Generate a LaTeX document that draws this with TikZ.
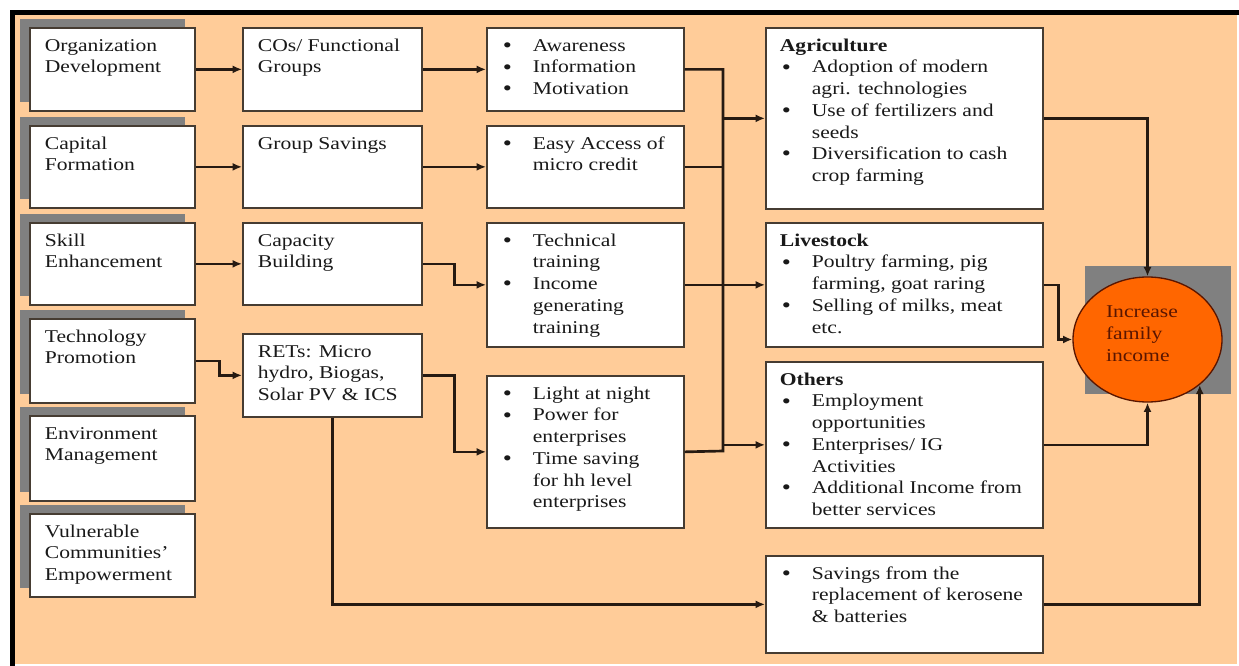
\documentclass[tikz,border=0pt]{standalone}
\usepackage{fontspec}
\setmainfont{Liberation Serif}[FakeStretch=1.2]
\usepackage{xcolor}
\usetikzlibrary{arrows.meta,shadows,shapes.geometric}

\definecolor{peach}{RGB}{255,204,153}
\definecolor{ink}{RGB}{38,26,18}
\definecolor{edge}{RGB}{70,60,50}
\definecolor{greybg}{RGB}{128,128,128}
\definecolor{flame}{RGB}{255,102,0}
\definecolor{rust}{RGB}{90,22,0}

\newdimen\unitpx \unitpx=0.75pt
% plain text cell: width, height, text
\newcommand{\cell}[3]{\parbox[t][#2\unitpx][t]{#1\unitpx}{\vspace*{6.1pt}\raggedright\leftskip=15\unitpx\relax\strut #3}}
% list cell: width, height, items
\newcommand{\lst}[3]{\parbox[t][#2\unitpx][t]{#1\unitpx}{\vspace*{6.1pt}\raggedright\leftskip=14\unitpx\relax #3}}
\newcommand{\itm}[1]{\par\hangindent=32\unitpx\hangafter=1\noindent\makebox[32\unitpx][l]{\strut\hspace{2\unitpx}\raisebox{-0.8pt}[0pt][0pt]{\scalebox{1.2}{\textbullet}}}#1}
\newcommand{\hd}[1]{\par\noindent\strut\textbf{#1}}

\tikzset{
  box/.style={draw=edge, line width=1.3pt, fill=white, inner sep=0pt, anchor=north west,
    text=black!90, font=\fontsize{13.5pt}{16.3pt}\selectfont},
  sbox/.style={box, drop shadow={shadow xshift=-7.5pt, shadow yshift=6.75pt, fill=greybg, opacity=1}},
  link/.style={draw=ink, line width=2pt},
  arr/.style={link, -{Latex[length=7pt,width=6pt]}},
}

\begin{document}
\begin{tikzpicture}[x=0.75pt,y=0.75pt,yscale=-1,xscale=1]
\useasboundingbox (0,0) rectangle (1239,666);

%Shape: Background
\fill[peach] (12,12) rectangle (1237,664);
\draw[line width=3.75pt] (12.5,666) -- (12.5,12.5) -- (1239,12.5);
\fill[greybg] (1085,266) rectangle (1231,394);

% Left column
\node[sbox] (orgd) at (29,27)  {\cell{165}{83}{Organization\newline Development}};
\node[sbox] (capf) at (29,125) {\cell{165}{82}{Capital\newline Formation}};
\node[sbox] (skil) at (29,222) {\cell{165}{82}{Skill\newline Enhancement}};
\node[sbox] (tech) at (29,318) {\cell{165}{84}{Technology\newline Promotion}};
\node[sbox] (envm) at (29,415) {\cell{165}{85}{Environment\newline Management}};
\node[sbox] (vuln) at (29,513) {\cell{165}{83}{Vulnerable\newline Communities'\newline Empowerment}};

% Second column
\node[box] (cogr) at (242,27)  {\cell{179}{83}{COs/ Functional\newline Groups}};
\node[box] (grsv) at (242,125) {\cell{179}{82}{Group Savings}};
\node[box] (capb) at (242,222) {\cell{179}{82}{Capacity\newline Building}};
\node[box] (rets) at (242,333) {\cell{179}{83}{RETs: Micro\newline hydro, Biogas,\newline Solar PV \& ICS}};

% Third column
\node[box] (awar) at (486,27)  {\lst{197}{83}{\itm{Awareness}\itm{Information}\itm{Motivation}}};
\node[box] (easy) at (486,125) {\lst{197}{82}{\itm{Easy Access of\newline micro credit}}};
\node[box] (trai) at (486,222) {\lst{197}{124}{\itm{Technical\newline training}\itm{Income\newline generating\newline training}}};
\node[box] (lght) at (486,375) {\lst{197}{152}{\itm{Light at night}\itm{Power for\newline enterprises}\itm{Time saving\newline for hh level\newline enterprises}}};

% Fourth column
\node[box] (agri) at (765,27)  {\lst{277}{181}{\hd{Agriculture}\itm{Adoption of modern\newline agri. technologies}\itm{Use of fertilizers and\newline seeds}\itm{Diversification to cash\newline crop farming}}};
\node[box] (live) at (765,222) {\lst{277}{124}{\hd{Livestock}\itm{Poultry farming, pig\newline farming, goat raring}\itm{Selling of milks, meat\newline etc.}}};
\node[box] (othr) at (765,361) {\lst{277}{166}{\hd{Others}\itm{Employment\newline opportunities}\itm{Enterprises/ IG\newline Activities}\itm{Additional Income from\newline better services}}};
\node[box] (savg) at (765,555) {\lst{277}{97}{\itm{Savings from the\newline replacement of kerosene\newline \& batteries}}};

% Result
\node[ellipse, draw=rust, line width=1pt, fill=flame, minimum width=111.75pt, minimum height=93.75pt, inner sep=0pt] (incm) at (1147.5,339.5) {};
\node[text=rust, align=left, font=\fontsize{13.5pt}{16.3pt}\selectfont, inner sep=0pt] (incl) at (1142,333.5) {Increase\\family\\income};

%Straight Lines
\draw[arr] (orgd.east) -- (cogr.west);
\draw[arr] (capf.east) -- (grsv.west);
\draw[arr] (skil.east) -- (capb.west);
\draw[arr] (tech.east) -- ++(24,0) |- (rets.west);

\draw[arr] (cogr.east) -- (awar.west);
\draw[arr] (grsv.east) -- (easy.west);
\draw[arr] (capb.east) -- ++(32,0) |- (trai.west);
\draw[arr] (rets.east) -- ++(32,0) |- (lght.west);
\draw[arr] (rets.south) |- (savg.west);

\coordinate (bus) at (723,451);
\draw[link] (awar.east) -| (bus) -- (lght.east);
\draw[link] (easy.east) -- (easy.east -| bus);
\draw[arr] (trai.east) -- (live.west);
\draw[arr] (bus |- agri.west) -- (agri.west);
\draw[arr] (bus |- othr.west) -- (othr.west);

\draw[arr] (agri.east) -| (incm.north);
\draw[arr] (live.east) -- ++(15,0) |- (incm.west);
\draw[arr] (othr.east) -| (incm.south);
\draw[arr] (savg.east) -| (incm.-41);

\end{tikzpicture}
\end{document}
